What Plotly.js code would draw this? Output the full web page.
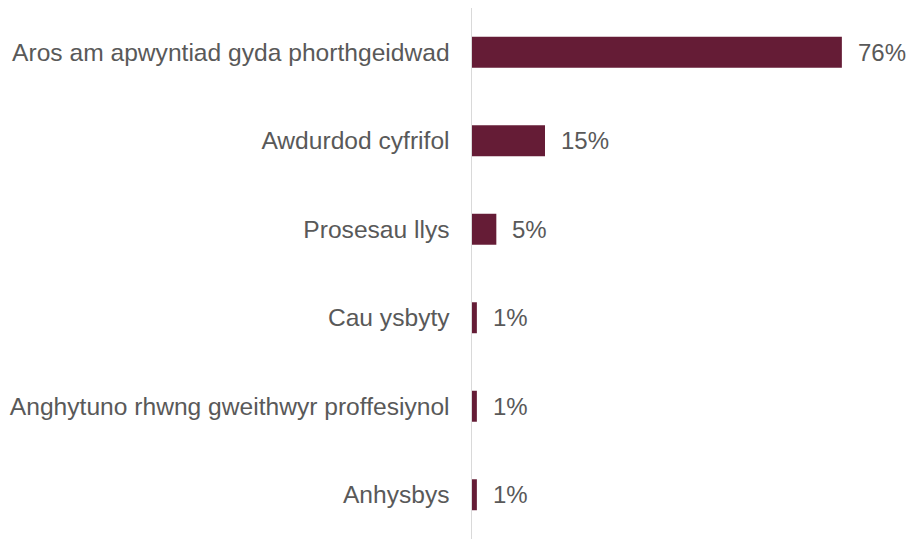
<!DOCTYPE html>
<html>
<head>
<meta charset="utf-8">
<script src="https://cdn.plot.ly/plotly-3.0.1.min.js"></script>
<style>
  html, body { margin: 0; padding: 0; background: #fff; }
  #chart { width: 914px; height: 539px; }
</style>
</head>
<body>
<div id="chart"></div>
<script>
// Reasons for delay, share of cases (%)
const categories = [
  "Aros am apwyntiad gyda phorthgeidwad",
  "Awdurdod cyfrifol",
  "Prosesau llys",
  "Cau ysbyty",
  "Anghytuno rhwng gweithwyr proffesiynol",
  "Anhysbys"
];
const values = [76, 15, 5, 1, 1, 1];
const valueLabels = values.map(v => v + "%");

const barColor = "#651c36";
const textColor = "#595959";
const fontFamily = "Liberation Sans, Arial, sans-serif";

const trace = {
  type: "bar",
  orientation: "h",
  y: categories,
  x: values,
  marker: { color: barColor },
  width: 0.35,
  hoverinfo: "skip"
};

// value labels placed just past the end of each bar
const annotations = values.map((v, i) => ({
  x: v,
  y: categories[i],
  xref: "x",
  yref: "y",
  text: valueLabels[i],
  showarrow: false,
  xanchor: "left",
  yanchor: "middle",
  xshift: 14,
  font: { family: fontFamily, size: 24, color: textColor }
}));

const layout = {
  width: 914,
  height: 539,
  margin: { l: 472, r: 4, t: 8, b: 0 },
  paper_bgcolor: "#ffffff",
  plot_bgcolor: "#ffffff",
  showlegend: false,
  xaxis: {
    range: [0, 90],
    showgrid: false,
    zeroline: false,
    showticklabels: false,
    showline: false,
    fixedrange: true
  },
  yaxis: {
    autorange: "reversed",
    showgrid: false,
    zeroline: false,
    showline: true,
    linecolor: "#d9d9d9",
    linewidth: 1.5,
    ticks: "",
    ticklabelstandoff: 16,
    tickfont: { family: fontFamily, size: 24.6, color: textColor },
    fixedrange: true
  },
  annotations: annotations
};

Plotly.newPlot("chart", [trace], layout, { displayModeBar: false, staticPlot: true });
</script>
</body>
</html>
